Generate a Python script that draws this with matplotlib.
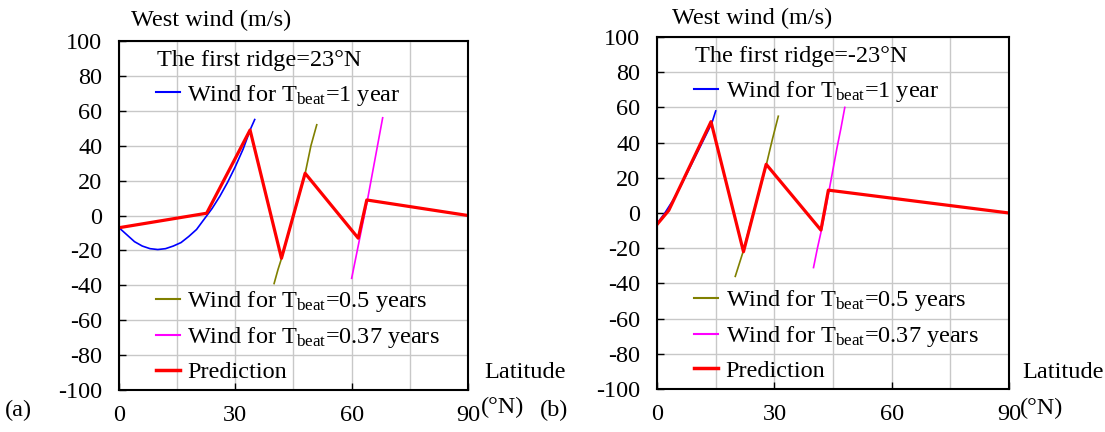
import numpy as np
import matplotlib.pyplot as plt
from matplotlib.lines import Line2D

plt.rcParams['font.family'] = 'Liberation Serif'
plt.rcParams['mathtext.fontset'] = 'custom'
plt.rcParams['mathtext.rm'] = 'Liberation Serif'
plt.rcParams['mathtext.it'] = 'Liberation Serif:italic'
plt.rcParams['axes.unicode_minus'] = False

# ---- panel (a): first ridge = 23N ----
a_wind1_lat = [0, 2, 4, 6, 8, 10, 12, 14, 16, 18, 20, 22, 24, 26, 28, 30, 32, 34, 35]
a_wind1_val = [-7, -11, -15, -17.5, -19, -19.5, -19, -17.5, -15.5, -12, -8, -2, 4, 11, 19, 28, 38, 50, 55]
a_wind05_lat = [40, 41, 42, 44, 46, 48, 49.5, 51]
a_wind05_val = [-39, -31, -24, -8, 8, 24, 40, 52]
a_wind037_lat = [60, 61, 62, 63, 64, 65, 66, 67, 68]
a_wind037_val = [-36, -25, -14, -3, 8, 20, 32, 44, 56]
a_pred_lat = [0, 22.6, 33.8, 41.9, 48, 61.7, 63.9, 90]
a_pred_val = [-7, 1.3, 49, -24.5, 24.2, -13, 8.9, 0]

# ---- panel (b): first ridge = -23N ----
b_wind1_lat = [0, 2, 4, 6, 8, 10, 12, 14, 15]
b_wind1_val = [-6, 0, 7, 15, 24, 33, 42, 51, 58]
b_wind05_lat = [20, 21, 22, 24, 26, 28, 29.5, 31]
b_wind05_val = [-36, -29, -22, -5, 11, 28, 42, 55]
b_wind037_lat = [40, 41, 42, 43, 44, 45, 46, 47, 48]
b_wind037_val = [-31, -20, -10, 1, 13, 25, 37, 48, 60]
b_pred_lat = [0, 3, 13.8, 22.1, 27.9, 41.9, 43.8, 90]
b_pred_val = [-6.5, 1.5, 51.9, -22, 27.7, -9.7, 13, 0]

fs = 17.5
lbl1 = 'Wind for T$_{\\mathrm{beat}}$=1 year'
lbl05 = 'Wind for T$_{\\mathrm{beat}}$=0.5 years'
lbl037 = 'Wind for T$_{\\mathrm{beat}}$=0.37 years'

fig = plt.figure(figsize=(11.05, 4.32), dpi=100)
ax1 = fig.add_axes([0.1077, 0.0972, 0.3158, 0.8079])
ax2 = fig.add_axes([0.5946, 0.0995, 0.3186, 0.8148])


def draw(ax, w1, w05, w037, pred, ridge):
    ax.plot(*w1, color='#0000ff', lw=1.2)
    ax.plot(*w05, color='#808000', lw=1.2)
    ax.plot(*w037, color='#ff00ff', lw=1.2)
    ax.plot(*pred, color='#ff0000', lw=2.3)
    ax.set_xlim(0, 90)
    ax.set_ylim(-100, 100)
    ax.set_xticks([0, 30, 60, 90])
    ax.set_xticks([15, 45, 75], minor=True)
    ax.set_yticks(np.arange(-100, 101, 20))
    ax.grid(True, which='both', color='#c8c8c8', lw=1.0)
    ax.set_axisbelow(True)
    ax.tick_params(which='both', direction='in', length=5, labelsize=fs, width=1)
    ax.tick_params(axis='x', which='minor', length=0)
    ax.tick_params(axis='y', pad=12)
    ax.tick_params(axis='x', pad=11)
    for s in ax.spines.values():
        s.set_linewidth(1.5)
    ax.text(0.109, 0.944, ridge, transform=ax.transAxes, fontsize=fs, va='center', ha='left')
    h1 = [Line2D([], [], color='#0000ff', lw=1.5)]
    leg1 = ax.legend(h1, [lbl1], loc='upper left', bbox_to_anchor=(0.105, 0.88),
                     frameon=False, fontsize=fs, handlelength=1.0, handletextpad=0.3,
                     borderpad=0, borderaxespad=0)
    ax.add_artist(leg1)
    h2 = [Line2D([], [], color='#808000', lw=1.5),
          Line2D([], [], color='#ff00ff', lw=1.5),
          Line2D([], [], color='#ff0000', lw=2.5)]
    ax.legend(h2, [lbl05, lbl037, 'Prediction'], loc='lower left', bbox_to_anchor=(0.105, 0.02),
              frameon=False, fontsize=fs, handlelength=1.0, handletextpad=0.3,
              labelspacing=0.45, borderpad=0, borderaxespad=0)


draw(ax1, (a_wind1_lat, a_wind1_val), (a_wind05_lat, a_wind05_val),
     (a_wind037_lat, a_wind037_val), (a_pred_lat, a_pred_val), 'The first ridge=23°N')
draw(ax2, (b_wind1_lat, b_wind1_val), (b_wind05_lat, b_wind05_val),
     (b_wind037_lat, b_wind037_val), (b_pred_lat, b_pred_val), 'The first ridge=-23°N')

fig.text(131 / 1105, 1 - 20 / 432, 'West wind (m/s)', fontsize=fs, va='center', ha='left')
fig.text(672 / 1105, 1 - 18 / 432, 'West wind (m/s)', fontsize=fs, va='center', ha='left')
fig.text(484 / 1105, 1 - 373 / 432, 'Latitude', fontsize=fs, va='center', ha='left')
fig.text(1022 / 1105, 1 - 372 / 432, 'Latitude', fontsize=fs, va='center', ha='left')
fig.text(481 / 1105, 1 - 407 / 432, '(°N)', fontsize=fs, va='center', ha='left')
fig.text(1020 / 1105, 1 - 408 / 432, '(°N)', fontsize=fs, va='center', ha='left')
fig.text(5 / 1105, 1 - 410 / 432, '(a)', fontsize=fs, va='center', ha='left')
fig.text(540 / 1105, 1 - 410 / 432, '(b)', fontsize=fs, va='center', ha='left')

fig.savefig('out.png', dpi=100)
